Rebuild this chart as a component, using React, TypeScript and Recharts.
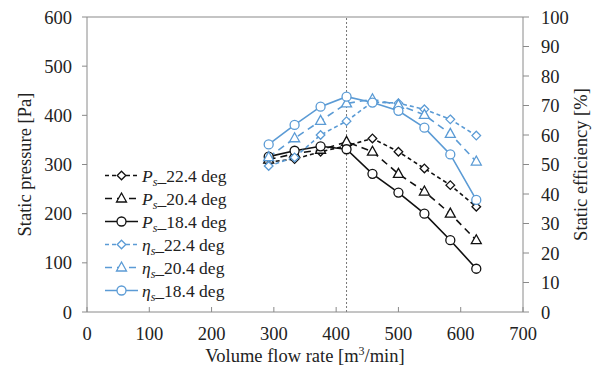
import React from 'react';
import { LineChart, Line, XAxis, YAxis, ReferenceLine } from 'recharts';

const flow = [291.7, 333.3, 375, 416.7, 458.3, 500, 541.7, 583.3, 625];
const ps224 = [305, 311, 326, 338, 353, 326, 292, 258, 214];
const ps204 = [310, 322, 330, 346, 326, 281, 245, 200, 146];
const ps184 = [316, 328, 337, 331, 281, 243, 200, 146, 88];
const eta224 = [49.5, 52.4, 60, 64.7, 71.2, 70.8, 68.7, 65.3, 59.8];
const eta204 = [52.5, 58.9, 64.8, 70.7, 72.1, 70.2, 66.8, 60.4, 51];
const eta184 = [56.8, 63.4, 69.6, 73.0, 71.0, 68.2, 62.5, 53.4, 38];

const xTicks = [0, 100, 200, 300, 400, 500, 600, 700];
const pTicks = [0, 100, 200, 300, 400, 500, 600];
const etaTicks = [0, 10, 20, 30, 40, 50, 60, 70, 80, 90, 100];
const designFlow = 416.7;

const BLACK = '#111';
const BLUE = '#5b9bd5';
const AXIS = '#8a8a8a';
const FONT = 'Liberation Serif';

const rows = flow.map((f, i) => ({
  flow: f,
  ps224: ps224[i],
  ps204: ps204[i],
  ps184: ps184[i],
  eta224: eta224[i],
  eta204: eta204[i],
  eta184: eta184[i],
}));

type Shape = 'diamond' | 'triangle' | 'circle';

type Series = {
  key: string;
  axis: 'p' | 'e';
  color: string;
  dash?: string;
  shape: Shape;
  sym: string;
  tail: string;
};

const series: Series[] = [
  { key: 'ps224', axis: 'p', color: BLACK, dash: '4 3', shape: 'diamond', sym: 'P', tail: '_22.4 deg' },
  { key: 'ps204', axis: 'p', color: BLACK, dash: '7 5', shape: 'triangle', sym: 'P', tail: '_20.4 deg' },
  { key: 'ps184', axis: 'p', color: BLACK, shape: 'circle', sym: 'P', tail: '_18.4 deg' },
  { key: 'eta224', axis: 'e', color: BLUE, dash: '4 3', shape: 'diamond', sym: 'η', tail: '_22.4 deg' },
  { key: 'eta204', axis: 'e', color: BLUE, dash: '7 5', shape: 'triangle', sym: 'η', tail: '_20.4 deg' },
  { key: 'eta184', axis: 'e', color: BLUE, shape: 'circle', sym: 'η', tail: '_18.4 deg' },
];

function Marker({ cx, cy, shape, color }: { cx: number; cy: number; shape: Shape; color: string }) {
  if (shape === 'diamond') {
    const r = 4.3;
    return (
      <polygon
        points={`${cx},${cy - r} ${cx + r},${cy} ${cx},${cy + r} ${cx - r},${cy}`}
        fill="#fff"
        stroke={color}
        strokeWidth={1.3}
      />
    );
  }
  if (shape === 'triangle') {
    return (
      <polygon
        points={`${cx},${cy - 5.5} ${cx + 5},${cy + 3.5} ${cx - 5},${cy + 3.5}`}
        fill="#fff"
        stroke={color}
        strokeWidth={1.3}
      />
    );
  }
  return <circle cx={cx} cy={cy} r={4.5} fill="#fff" stroke={color} strokeWidth={1.3} />;
}

const dotFor = (s: Series) => (props: any) => {
  const { cx, cy, index } = props;
  if (cx == null || cy == null) return <g key={`${s.key}-${index}`} />;
  return (
    <g key={`${s.key}-${index}`}>
      <Marker cx={cx} cy={cy} shape={s.shape} color={s.color} />
    </g>
  );
};

const XTick = (props: any) => {
  const { x, y, payload } = props;
  return (
    <g>
      <line x1={x} x2={x} y1={y} y2={y - 5} stroke={AXIS} />
      <text x={x} y={y + 28} textAnchor="middle" fill="#222" fontSize={18.5} fontFamily={FONT}>
        {payload.value}
      </text>
    </g>
  );
};

const LeftTitle = (props: any) => {
  const vb = props.viewBox;
  const x = vb.x + 25;
  const y = vb.y + vb.height / 2;
  return (
    <text x={x} y={y} transform={`rotate(-90 ${x} ${y})`} textAnchor="middle" dominantBaseline="central" fill="#222" fontSize={18.5} fontFamily={FONT}>
      Static pressure [Pa]
    </text>
  );
};

const RightTitle = (props: any) => {
  const vb = props.viewBox;
  const x = vb.x + 58;
  const y = vb.y + vb.height / 2;
  return (
    <text x={x} y={y} transform={`rotate(-90 ${x} ${y})`} textAnchor="middle" dominantBaseline="central" fill="#222" fontSize={18.5} fontFamily={FONT}>
      Static efficiency [%]
    </text>
  );
};

const BottomTitle = (props: any) => {
  const vb = props.viewBox;
  const x = vb.x + vb.width / 2;
  const y = vb.y + 50;
  return (
    <text x={x} y={y} textAnchor="middle" fill="#222" fontSize={18.5} fontFamily={FONT}>
      Volume flow rate [m
      <tspan dy={-7} fontSize={12}>3</tspan>
      <tspan dy={7}>/min]</tspan>
    </text>
  );
};

// legend drawn as an overlay, rows follow the series list
function LegendBox() {
  const rowH = 23;
  return (
    <svg width={200} height={150} style={{ position: 'absolute', left: 100, top: 163 }}>
      {series.map((s, i) => {
        const y = 12.5 + i * rowH;
        return (
          <g key={s.key}>
            <line x1={5} x2={38} y1={y} y2={y} stroke={s.color} strokeWidth={1.6} strokeDasharray={s.dash} />
            <Marker cx={21.5} cy={y} shape={s.shape} color={s.color} />
            <text x={42} y={y + 6} fill="#222" fontSize={17.5} fontFamily={FONT}>
              <tspan fontStyle="italic">{s.sym}</tspan>
              <tspan fontStyle="italic" fontSize={12} dy={4}>s</tspan>
              <tspan dy={-4}>{s.tail}</tspan>
            </text>
          </g>
        );
      })}
    </svg>
  );
}

export default function App() {
  return (
    <div style={{ position: 'absolute', left: 0, top: 0, width: 598, height: 370, background: '#fff', fontFamily: FONT }}>
      <LineChart width={598} height={370} data={rows} margin={{ top: 17, right: 0, bottom: 0, left: 0 }}>
        <XAxis
          dataKey="flow"
          type="number"
          domain={[0, 700]}
          ticks={xTicks}
          height={58}
          stroke={AXIS}
          tickLine={false}
          tickSize={0}
          tickMargin={0}
          tick={<XTick />}
          yAxisId="p"
          label={<BottomTitle />}
        />
        <YAxis
          yAxisId="p"
          domain={[0, 600]}
          ticks={pTicks}
          width={87}
          stroke={AXIS}
          tickSize={5}
          tickMargin={10}
          tick={{ fill: '#222', fontSize: 18.5, fontFamily: FONT }}
          label={<LeftTitle />}
        />
        <YAxis
          yAxisId="e"
          orientation="right"
          domain={[0, 100]}
          ticks={etaTicks}
          width={75}
          stroke={AXIS}
          tickSize={6}
          tickMargin={12}
          tick={{ fill: '#222', fontSize: 18.5, fontFamily: FONT, textAnchor: 'start' }}
          label={<RightTitle />}
        />
        <ReferenceLine yAxisId="p" y={600} stroke={AXIS} strokeWidth={1.2} />
        <ReferenceLine yAxisId="p" x={designFlow} stroke="#777" strokeDasharray="2 2" />
        {series.map((s) => (
          <Line
            key={s.key}
            yAxisId={s.axis}
            dataKey={s.key}
            stroke={s.color}
            strokeWidth={1.6}
            strokeDasharray={s.dash}
            dot={dotFor(s)}
            activeDot={false}
            isAnimationActive={false}
            type="linear"
          />
        ))}
      </LineChart>
      <LegendBox />
    </div>
  );
}
